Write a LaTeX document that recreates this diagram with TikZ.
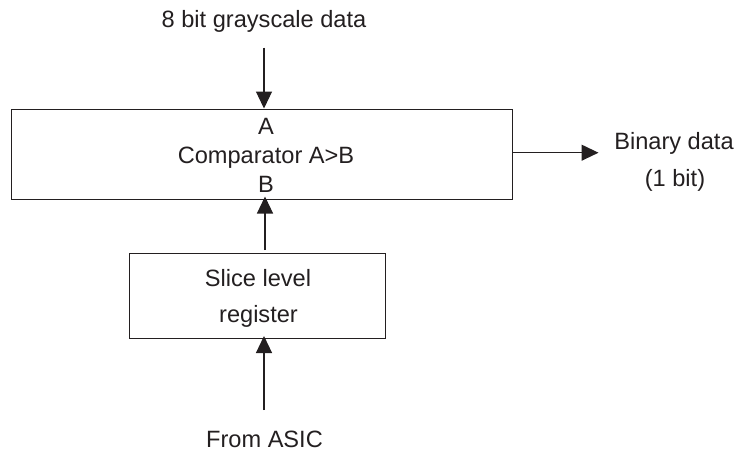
\documentclass[tikz,border=0pt]{standalone}
\usepackage{fontspec}
\setmainfont{Liberation Sans}
\usetikzlibrary{arrows.meta}
\definecolor{ink}{HTML}{231F20}
\tikzset{
  blockbox/.style={draw=ink,line width=1.2pt,anchor=north west,inner sep=0pt},
  lbl/.style={anchor=base,inner sep=0pt,font=\fontsize{23.6pt}{26pt}\selectfont,text=ink},
  conn/.style={draw=ink,line width=1.2pt,-{Triangle[length=17pt,width=16pt,color=ink]}}
}
\begin{document}
\begin{tikzpicture}[x=1pt,y=-1pt]
\useasboundingbox (0,0) rectangle (736,451);
\node[blockbox,minimum width=501pt,minimum height=90pt] (cmp) at (10.5,108.5) {};
\node[blockbox,minimum width=256pt,minimum height=85pt] (reg) at (128.5,253) {};
\node[lbl] (top) at (264,27) {8 bit grayscale data};
\node[lbl] (a) at (266,134) {A};
\node[lbl] (c) at (266,163) {Comparator A>B};
\node[lbl] (b) at (266,192) {B};
\node[lbl] (s1) at (258,286) {Slice level};
\node[lbl] (s2) at (258.5,322) {register};
\node[lbl] (asic) at (264.5,447) {From ASIC};
\node[lbl] (bin) at (674,149) {Binary data};
\node[lbl] (bit) at (675,186) {(1 bit)};
\coordinate (t0) at (264,47.5);
\coordinate (t1) at (264,108.5);
\draw[conn] (t0) -- (t1);
\coordinate (m0) at (265,250);
\coordinate (m1) at (265,196.5);
\draw[conn] (m0) -- (m1);
\coordinate (l0) at (264,410);
\coordinate (l1) at (264,336);
\draw[conn] (l0) -- (l1);
\coordinate (r0) at (cmp.east |- 0,152.7);
\coordinate (r1) at (598.5,152.7);
\draw[conn] (r0) -- (r1);
\end{tikzpicture}
\end{document}
